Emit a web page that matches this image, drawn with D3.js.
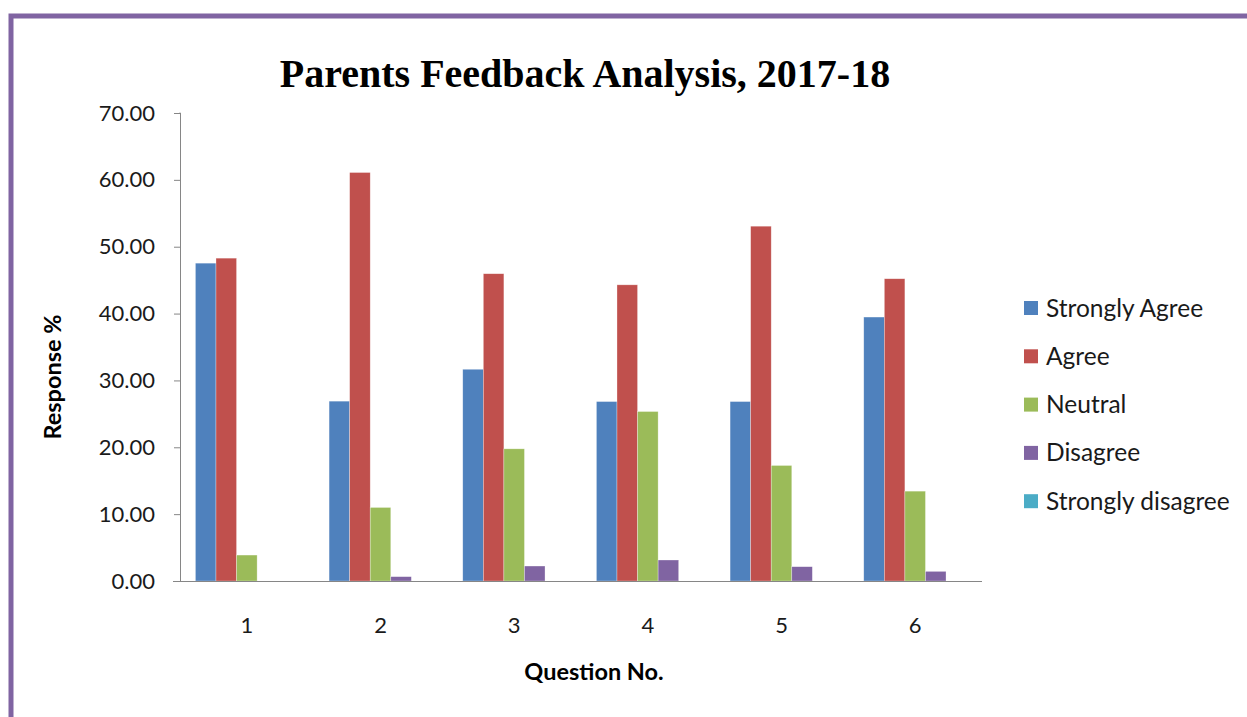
<!DOCTYPE html>
<html>
<head>
<meta charset="utf-8">
<script src="https://cdn.jsdelivr.net/npm/d3@7/dist/d3.min.js"></script>
<style>
  html, body { margin: 0; padding: 0; background: #fff; }
  svg { display: block; }
</style>
</head>
<body>
<svg id="chart" width="1247" height="717"></svg>
<script>
const categories = ["1", "2", "3", "4", "5", "6"];
const seriesNames = ["Strongly Agree", "Agree", "Neutral", "Disagree", "Strongly disagree"];
const stronglyAgree = [47.54, 26.90, 31.67, 26.84, 26.84, 39.48];
const agree = [48.29, 61.10, 45.96, 44.30, 53.07, 45.21];
const neutral = [3.88, 11.00, 19.77, 25.35, 17.28, 13.44];
const disagree = [0.00, 0.65, 2.24, 3.14, 2.14, 1.44];
const stronglyDisagree = [0, 0, 0, 0, 0, 0];
const yTicks = [0, 10, 20, 30, 40, 50, 60, 70];
const colors = ["#4F81BD", "#C0504D", "#9BBB59", "#8064A2", "#4BACC6"];

const seriesValues = [stronglyAgree, agree, neutral, disagree, stronglyDisagree];

const svg = d3.select("#chart");
const labelFont = "Lato, 'Open Sans', sans-serif";

// frame border
svg.append("path")
  .attr("d", "M11,717 L11,16 L1247,16")
  .attr("fill", "none")
  .attr("stroke", "#8064A2")
  .attr("stroke-width", 5);

const x0 = 180, x1 = 982, yBase = 581, yTop = 113;

const x = d3.scaleBand().domain(categories).range([x0, x1]).paddingInner(0).paddingOuter(0);
const xs = d3.scaleBand().domain(seriesNames).range([0, x.bandwidth()]).paddingInner(0).paddingOuter(0.75);
const y = d3.scaleLinear().domain([0, 70]).range([yBase, yTop]);

// bars
seriesNames.forEach((s, si) => {
  svg.append("g").selectAll("rect")
    .data(categories.map((c, ci) => ({ c, v: seriesValues[si][ci] })))
    .join("rect")
    .attr("x", d => x(d.c) + xs(s))
    .attr("y", d => y(d.v))
    .attr("width", xs.bandwidth())
    .attr("height", d => yBase - y(d.v))
    .attr("fill", colors[si])
    .attr("stroke", "rgba(255,255,255,0.5)")
    .attr("stroke-width", 0.6);
});

// y axis
const yAxis = svg.append("g")
  .attr("transform", `translate(${x0},0)`)
  .call(d3.axisLeft(y).tickValues(yTicks).tickFormat(d3.format(".2f")).tickSize(6).tickPadding(19));
yAxis.select(".domain").attr("stroke", "#868686").attr("d", `M-0.5,${yTop}H0.5V${yBase}`);
yAxis.selectAll(".tick line").attr("stroke", "#868686");
yAxis.selectAll("text").attr("font-family", labelFont).attr("font-size", 22).attr("fill", "#1a1a1a");

// x axis
const xAxis = svg.append("g")
  .attr("transform", `translate(0,${yBase})`)
  .call(d3.axisBottom(x).tickSize(0).tickPadding(36));
xAxis.select(".domain").attr("stroke", "#868686").attr("d", `M${x0 - 7},0.5H${x1}`);
xAxis.selectAll("text").attr("font-family", labelFont).attr("font-size", 22).attr("fill", "#1a1a1a");

// title
svg.append("text")
  .attr("x", 585).attr("y", 87)
  .attr("text-anchor", "middle")
  .attr("font-family", "'Liberation Serif', 'DejaVu Serif', serif")
  .attr("font-weight", "bold")
  .attr("font-size", 40)
  .attr("fill", "#000")
  .text("Parents Feedback Analysis, 2017-18");

// axis titles
svg.append("text")
  .attr("x", 594).attr("y", 680)
  .attr("text-anchor", "middle")
  .attr("font-family", labelFont)
  .attr("font-weight", "bold")
  .attr("font-size", 23.5)
  .attr("fill", "#000")
  .text("Question No.");

svg.append("text")
  .attr("transform", "translate(61,377) rotate(-90)")
  .attr("text-anchor", "middle")
  .attr("font-family", labelFont)
  .attr("font-weight", "bold")
  .attr("font-size", 23.5)
  .attr("fill", "#000")
  .text("Response %");

// legend
const legend = svg.append("g");
seriesNames.forEach((s, i) => {
  const cy = 308 + i * 48.3;
  legend.append("rect")
    .attr("x", 1024).attr("y", cy - 7)
    .attr("width", 14).attr("height", 14)
    .attr("fill", colors[i]);
  legend.append("text")
    .attr("x", 1046).attr("y", cy + 8.5)
    .attr("font-family", labelFont)
    .attr("font-size", 24.5)
    .attr("fill", "#1a1a1a")
    .text(s);
});
</script>
</body>
</html>
